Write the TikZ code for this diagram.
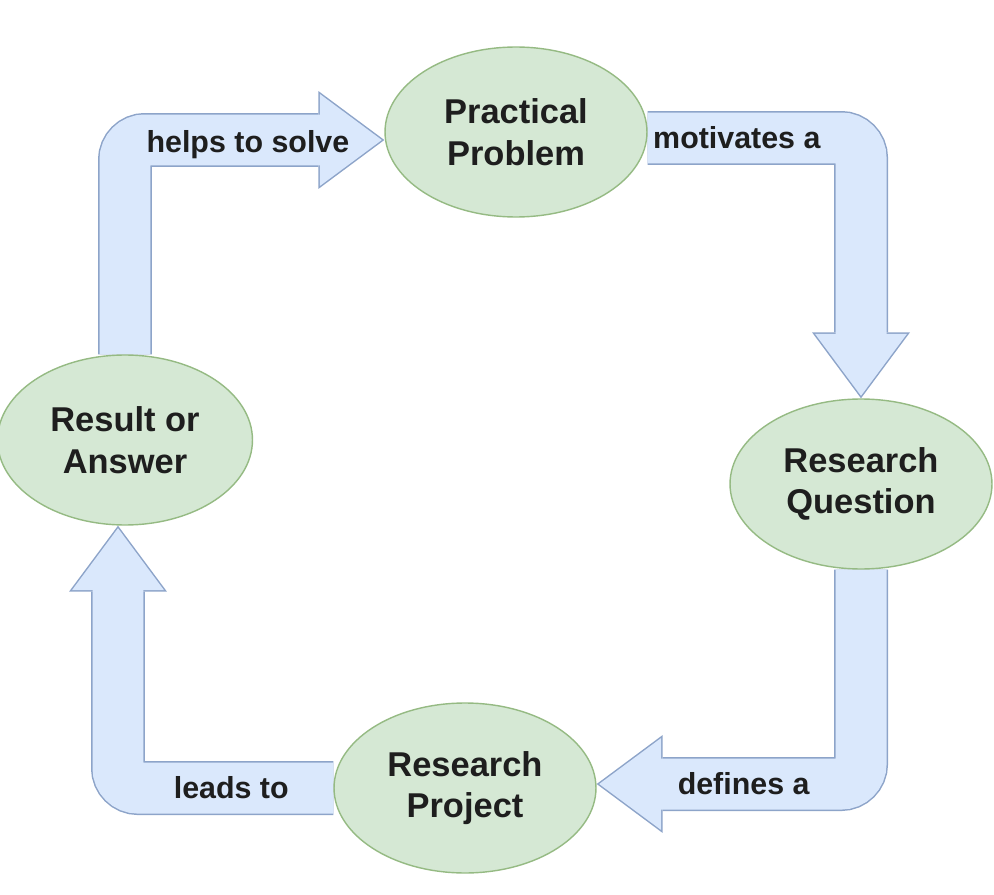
\documentclass[tikz,border=0pt]{standalone}
\usepackage{fontspec}
\setmainfont{Liberation Sans}
\usetikzlibrary{shapes.geometric,arrows.meta,backgrounds}
\definecolor{phasefill}{HTML}{D5E8D4}
\definecolor{phaseline}{HTML}{95BA83}
\definecolor{flowfill}{HTML}{DAE8FC}
\definecolor{flowline}{HTML}{8DA4C9}
\definecolor{inktext}{HTML}{1E1E1E}

\begin{document}
\begin{tikzpicture}[x=0.02cm, y=-0.02cm]
\tikzstyle{phase}=[ellipse, draw=phaseline, fill=phasefill, line width=0.8pt, minimum width=5.24cm, minimum height=3.4cm, inner sep=0pt, align=center, text=inktext, font=\bfseries\fontsize{19.6}{23.8}\selectfont]
\tikzstyle{flowout}=[draw=flowline, line width=1.08cm, rounded corners=0.4cm, -{Triangle[width=1.96cm, length=1.32cm, line width=0pt]}]
\tikzstyle{flowin}=[draw=flowfill, line width=1.02cm, rounded corners=0.4cm, shorten >=0.05cm, -{Triangle[width=1.84cm, length=1.24cm, line width=0pt]}]
\tikzstyle{verb}=[text=inktext, font=\bfseries\fontsize{17.3}{20}\selectfont]
\useasboundingbox (0,0) rectangle (994,895);
\node[phase]    (prob)   at (516,132)   {Practical\\Problem};
\node[phase]    (quest)  at (861,484)   {Research\\Question};
\node[phase]    (proj)   at (465,788)   {Research\\Project};
\node[phase, minimum width=5.1cm] (result) at (125,440) {Result or\\Answer};
\begin{pgfonlayer}{background}
\draw[flowout] (result.north) |- ([yshift=-0.16cm]prob.west);
\draw[flowin]  (result.north) |- node[verb, pos=0.737, yshift=-0.1cm]{helps to solve} ([yshift=-0.16cm]prob.west);
\draw[flowout] ([yshift=-0.12cm]prob.east) -| (quest.north);
\draw[flowin]  ([yshift=-0.12cm]prob.east) -| node[verb, pos=0.209]{motivates a} (quest.north);
\draw[flowout] (quest.south) |- ([yshift=0.08cm]proj.east);
\draw[flowin]  (quest.south) |- node[verb, pos=0.722]{defines a} ([yshift=0.08cm]proj.east);
\draw[flowout] (proj.west) -| ([xshift=-0.14cm]result.south);
\draw[flowin]  (proj.west) -| node[verb, pos=0.237]{leads to} ([xshift=-0.14cm]result.south);
\end{pgfonlayer}
\end{tikzpicture}
\end{document}
